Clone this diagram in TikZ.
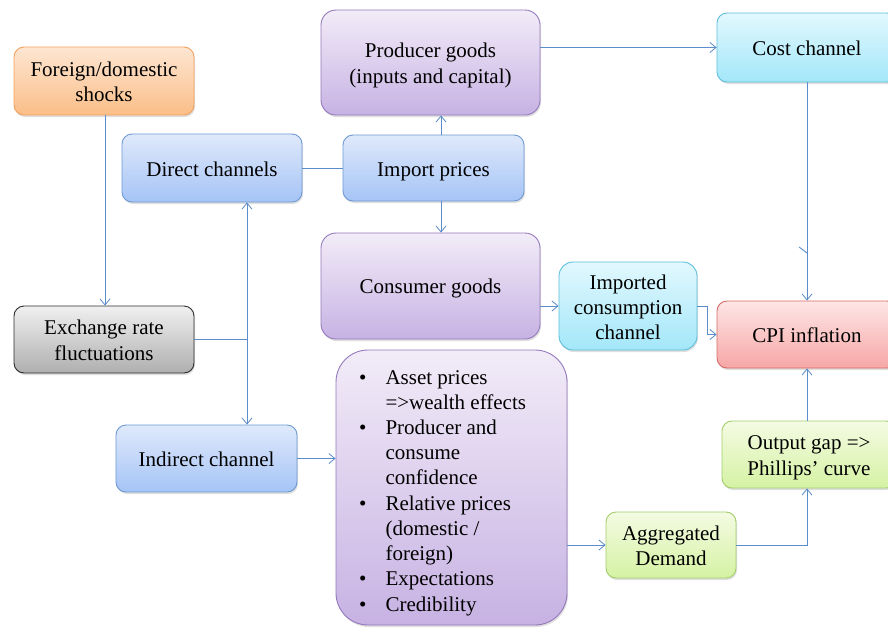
\documentclass[tikz,border=0pt]{standalone}
\usepackage{fontspec}
\setmainfont{Liberation Serif}
\usetikzlibrary{arrows.meta,shadows,calc}
\renewcommand{\arraystretch}{0}
\newcommand{\pptl}[1]{\rule[-4.5pt]{0pt}{25pt}#1}
\newcommand{\pptm}[1]{\rule[-4.5pt]{0pt}{25.2pt}#1}
\newcommand{\oneL}[1]{\begin{tabular}{@{}c@{}}\pptl{#1}\end{tabular}}
\newcommand{\twoL}[2]{\begin{tabular}{@{}c@{}}\pptl{#1}\\\pptl{#2}\end{tabular}}
\newcommand{\threeL}[3]{\begin{tabular}{@{}c@{}}\pptl{#1}\\\pptl{#2}\\\pptl{#3}\end{tabular}}
\definecolor{lnc}{HTML}{5B8CCB}
\definecolor{orT}{HTML}{FDE6D2}\definecolor{orB}{HTML}{FBBE88}\definecolor{orD}{HTML}{F3A25E}
\definecolor{blT}{HTML}{DFE9FB}\definecolor{blB}{HTML}{A5C4F6}\definecolor{blD}{HTML}{6E9AD3}
\definecolor{puT}{HTML}{F2ECF8}\definecolor{puB}{HTML}{C7B2E3}\definecolor{puD}{HTML}{9479BC}
\definecolor{cyT}{HTML}{E2F8FE}\definecolor{cyB}{HTML}{A3E7F9}\definecolor{cyD}{HTML}{5DBFDC}
\definecolor{reT}{HTML}{FEE6E6}\definecolor{reB}{HTML}{F7A6A6}\definecolor{reD}{HTML}{D66A66}
\definecolor{grT}{HTML}{F4FBE3}\definecolor{grB}{HTML}{D5F2A3}\definecolor{grD}{HTML}{A4CD6C}
\definecolor{gyT}{HTML}{F0F0F0}\definecolor{gyB}{HTML}{AFAFAF}\definecolor{gyD}{HTML}{2E2E2E}
\tikzset{
  box/.style={rounded corners=10pt, line width=0.9pt, inner sep=2pt,
    font=\fontsize{21}{25}\selectfont,
    drop shadow={opacity=0.25, shadow xshift=1pt, shadow yshift=-2pt}},
  orbox/.style={box, draw=orD, top color=orT, bottom color=orB},
  blbox/.style={box, draw=blD, top color=blT, bottom color=blB},
  pubox/.style={box, draw=puD, top color=puT, bottom color=puB, rounded corners=15pt},
  cybox/.style={box, draw=cyD, top color=cyT, bottom color=cyB},
  rebox/.style={box, draw=reD, top color=reT, bottom color=reB},
  grbox/.style={box, draw=grD, top color=grT, bottom color=grB},
  gybox/.style={box, draw=gyD, top color=gyT, bottom color=gyB},
  conn/.style={draw=lnc, line width=0.9pt},
  arr/.style={conn, -{Straight Barb[length=6pt,width=10pt,line width=0.8pt]}},
  arrb/.style={conn, {Straight Barb[length=6pt,width=10pt,line width=0.8pt]}-{Straight Barb[length=6pt,width=10pt,line width=0.8pt]}},
}
\begin{document}
\begin{tikzpicture}[x=1pt,y=-1pt]
\useasboundingbox[fill=white] (0,0) rectangle (888,627);
% nodes
\node[orbox, minimum width=180pt, minimum height=68pt] (shock) at (104,81) {\twoL{Foreign/domestic}{shocks}};
\node[blbox, minimum width=180pt, minimum height=68pt] (direct) at (212,168) {\oneL{Direct channels}};
\node[gybox, minimum width=180pt, minimum height=67pt] (exch) at (104,339.5) {\twoL{Exchange rate}{fluctuations}};
\node[blbox, minimum width=181pt, minimum height=67pt] (indirect) at (206.5,458.5) {\oneL{Indirect channel}};
\node[pubox, minimum width=219pt, minimum height=105pt] (prod) at (430.5,62.5) {\twoL{Producer goods}{(inputs and capital)}};
\node[blbox, minimum width=181pt, minimum height=66pt] (import) at (433.5,168) {\oneL{Import prices}};
\node[pubox, minimum width=219pt, minimum height=106pt] (cons) at (430.5,286) {\oneL{Consumer goods}};
\node[cybox, minimum width=138pt, minimum height=88pt, rounded corners=14pt] (impcons) at (628,306) {\threeL{Imported}{consumption}{channel}};
\node[pubox, minimum width=231pt, minimum height=275pt, rounded corners=32pt] (bullet) at (451.5,487.5) {};
\node[anchor=west, inner sep=0pt, font=\fontsize{21}{25.2}\selectfont] (blist) at (359,489.5) {%
  \begin{tabular}{@{}l@{\hspace{19pt}}l@{}}
  \pptm{\textbullet} & Asset prices\\
  \pptm{} & =>wealth effects\\
  \pptm{\textbullet} & Producer and\\
  \pptm{} & consume\\
  \pptm{} & confidence\\
  \pptm{\textbullet} & Relative prices\\
  \pptm{} & (domestic /\\
  \pptm{} & foreign)\\
  \pptm{\textbullet} & Expectations\\
  \pptm{\textbullet} & Credibility
  \end{tabular}};
\node[cybox, minimum width=180pt, minimum height=69pt] (cost) at (807,47.5) {\oneL{Cost channel}};
\node[rebox, minimum width=180pt, minimum height=67pt] (cpi) at (807,334.5) {\oneL{CPI inflation}};
\node[grbox, minimum width=174pt, minimum height=67pt] (outgap) at (809,454.5) {\twoL{Output gap =>}{Phillips’ curve}};
\node[grbox, minimum width=130pt, minimum height=66pt] (ad) at (671,545) {\twoL{Aggregated}{Demand}};
% helper coordinates
\coordinate (jx) at (247,339.5);
\coordinate (ax) at (441,0);
\coordinate (bx) at (707,0);
\coordinate (sx) at (105,0);
\coordinate (tick) at (807,253);
% connectors
\draw[arr] (shock.south -| sx) -- (exch.north -| sx);
\draw[conn] (exch.east) -- (jx);
\draw[arrb] (direct.south -| jx) -- (indirect.north -| jx);
\draw[conn] (direct.east) -- (import.west);
\draw[arr] (import.north -| ax) -- (prod.south -| ax);
\draw[arr] (import.south -| ax) -- (cons.north -| ax);
\draw[arr] (cost.west -| prod.east) -- (cost.west);
\draw[arr] (cost.south) -- (cpi.north);
\draw[conn] (tick) -- ++(-8,-6);
\draw[arr] (cons.east |- impcons.west) -- (impcons.west);
\draw[arr] (impcons.east) -- (impcons.east -| bx) |- (cpi.west);
\draw[arr] (outgap.north -| cpi.south) -- (cpi.south);
\draw[arr] (ad.east) -| (outgap.south -| cpi.south);
\draw[arr] (bullet.east |- ad.west) -- (ad.west);
\draw[arr] (indirect.east) -- (bullet.west |- indirect.east);
\end{tikzpicture}
\end{document}
